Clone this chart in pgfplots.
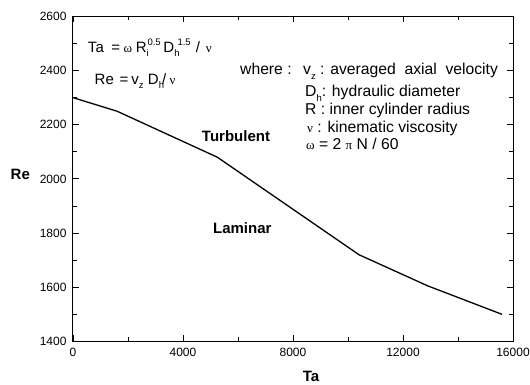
\documentclass[border=0pt]{standalone}
\usepackage{fontspec}
\setmainfont{Liberation Sans}
\newfontfamily\gr{Liberation Serif}
\usepackage{pgfplots}
\pgfplotsset{compat=1.18}
\newcommand\mysub[1]{\raisebox{-4.7pt}{\fontsize{9.5}{9.5}\selectfont #1}}
\newcommand\mysup[1]{\raisebox{6.3pt}{\fontsize{9.5}{9.5}\selectfont #1}}
\newcommand\g[1]{{\gr\fontsize{13}{13}\selectfont #1}}
\newcommand\bx[2]{\makebox[#1pt][l]{#2}}
\begin{document}
\begin{tikzpicture}
\path[use as bounding box] (-73pt,-43.6pt) rectangle (457pt,341.4pt);
\begin{axis}[
 at={(0,0)}, anchor=south west,
 scale only axis, width=440pt, height=325pt,
 xmin=0,xmax=16000,ymin=1400,ymax=2600,
 xtick={0,4000,...,16000}, ytick={1400,1600,...,2600},
 minor x tick num=1, minor y tick num=1,
 tick align=inside, xtick pos=both, ytick pos=both,
 major tick length=6pt, minor tick length=4pt,
 tick style={black, line width=0.8pt},
 axis line style={line width=1pt},
 scaled ticks=false,
 /pgf/number format/set thousands separator={},
 /pgf/number format/assume math mode=true,
 tick label style={font=\fontsize{12}{12}\selectfont},
 xticklabel style={yshift=-3pt},
 yticklabel style={xshift=-3pt},
 xlabel={Ta}, ylabel={Re},
 label style={font=\bfseries\fontsize{15}{15}\selectfont},
 xlabel style={at={(rel axis cs:0.541,-0.1086)},anchor=center},
 ylabel style={at={(rel axis cs:-0.1198,0.514)},anchor=center,rotate=-90},
]
\addplot[black, line width=1.3pt] coordinates {
 (0,2300) (1600,2250) (5250,2080) (10400,1720) (12900,1605) (15600,1500)
};
\node[font=\bfseries\fontsize{15}{15}\selectfont] at (axis cs:5927,2159) {Turbulent};
\node[font=\bfseries\fontsize{15}{15}\selectfont] at (axis cs:6156,1817) {Laminar};
\end{axis}
\begin{scope}[every node/.style={anchor=base west, inner sep=0pt, font=\fontsize{15}{15}\selectfont}]
\node at (14.8pt,289.1pt) {\bx{23.5}{Ta}\bx{12}{=}\bx{12.4}{\g{ω}}\bx{11.6}{R\rlap{\mysub{i}}}\bx{16}{\mysup{0.5}}\bx{14}{D\rlap{\mysub{h}}}\bx{18.4}{\mysup{1.5}}\bx{10}{/}\g{ν}};
\node at (21.5pt,257.1pt) {\bx{25}{Re}\bx{11.7}{=}\bx{16.6}{v\mysub{z}}\bx{14}{D\rlap{\mysub{h}}}\bx{7.7}{/}\g{ν}};
\end{scope}
\begin{scope}[every node/.style={anchor=base west, inner sep=0pt, font=\fontsize{15.7}{15.7}\selectfont}]
\node at (167pt,266.4pt) {where  :};
\node at (230pt,266.4pt) {v\mysub{z} : averaged\ \ axial\ \ velocity};
\node at (232pt,244.7pt) {D\mysub{h}: hydraulic diameter};
\node at (232pt,227pt) {R : inner cylinder radius};
\node at (234pt,208.7pt) {\g{ν} : kinematic viscosity};
\node at (233pt,191.4pt) {\g{ω} = 2 \g{π} N / 60};
\end{scope}
\end{tikzpicture}
\end{document}
